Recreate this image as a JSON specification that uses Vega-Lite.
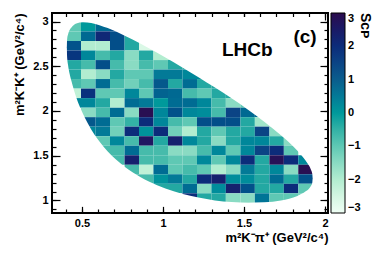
{
"$schema":"https://vega.github.io/schema/vega-lite/v6.json",
"width":276,"height":200,
"autosize":{"type":"none"},
"padding":{"left":52,"top":13,"right":46,"bottom":40},
"background":"white",
"config":{
 "view":{"stroke":"black","strokeWidth":2},
 "axis":{"grid":false,"domain":false,"tickColor":"black","tickWidth":1.2,"labelFont":"Liberation Sans","labelFontWeight":"bold","labelFontSize":11,"labelColor":"black","labelOverlap":false,"labelFlush":false,"titleFont":"Liberation Sans","titleFontWeight":"bold","titleFontSize":13,"titleColor":"black","zindex":1},
 "legend":{"labelFont":"Liberation Sans","labelFontWeight":"bold","labelFontSize":11,"labelColor":"black","labelOverlap":false,"titleFont":"Liberation Sans","titleFontWeight":"bold","titleFontSize":14,"titleColor":"black","gradientStrokeColor":"black","gradientStrokeWidth":1}
},
"datasets":{
"cells":[
{"xlo":0.405,"xhi":0.494,"ylo":2.889,"yhi":2.995,"S":-1.0},{"xlo":0.494,"xhi":0.584,"ylo":2.889,"yhi":2.995,"S":0.0},{"xlo":0.584,"xhi":0.673,"ylo":2.889,"yhi":2.995,"S":0.8},{"xlo":0.673,"xhi":0.763,"ylo":2.889,"yhi":2.995,"S":1.3},
{"xlo":0.405,"xhi":0.494,"ylo":2.782,"yhi":2.889,"S":-1.0},{"xlo":0.494,"xhi":0.584,"ylo":2.782,"yhi":2.889,"S":0.8},{"xlo":0.584,"xhi":0.673,"ylo":2.782,"yhi":2.889,"S":2.1},{"xlo":0.673,"xhi":0.763,"ylo":2.782,"yhi":2.889,"S":1.3},{"xlo":0.763,"xhi":0.852,"ylo":2.782,"yhi":2.889,"S":-0.3},
{"xlo":0.405,"xhi":0.494,"ylo":2.676,"yhi":2.782,"S":1.2},{"xlo":0.494,"xhi":0.584,"ylo":2.676,"yhi":2.782,"S":-2.0},{"xlo":0.584,"xhi":0.673,"ylo":2.676,"yhi":2.782,"S":-2.0},{"xlo":0.673,"xhi":0.763,"ylo":2.676,"yhi":2.782,"S":1.3},{"xlo":0.763,"xhi":0.852,"ylo":2.676,"yhi":2.782,"S":-0.3},{"xlo":0.852,"xhi":0.941,"ylo":2.676,"yhi":2.782,"S":-2.6},
{"xlo":0.405,"xhi":0.494,"ylo":2.569,"yhi":2.676,"S":1.8},{"xlo":0.494,"xhi":0.584,"ylo":2.569,"yhi":2.676,"S":0.3},{"xlo":0.584,"xhi":0.673,"ylo":2.569,"yhi":2.676,"S":-0.7},{"xlo":0.673,"xhi":0.763,"ylo":2.569,"yhi":2.676,"S":-0.3},{"xlo":0.763,"xhi":0.852,"ylo":2.569,"yhi":2.676,"S":-1.5},{"xlo":0.852,"xhi":0.941,"ylo":2.569,"yhi":2.676,"S":-0.3},{"xlo":0.941,"xhi":1.031,"ylo":2.569,"yhi":2.676,"S":-2.0},{"xlo":1.031,"xhi":1.120,"ylo":2.569,"yhi":2.676,"S":-2.0},
{"xlo":0.405,"xhi":0.494,"ylo":2.463,"yhi":2.569,"S":-0.3},{"xlo":0.494,"xhi":0.584,"ylo":2.463,"yhi":2.569,"S":-0.7},{"xlo":0.584,"xhi":0.673,"ylo":2.463,"yhi":2.569,"S":1.3},{"xlo":0.673,"xhi":0.763,"ylo":2.463,"yhi":2.569,"S":-0.7},{"xlo":0.763,"xhi":0.852,"ylo":2.463,"yhi":2.569,"S":-1.5},{"xlo":0.852,"xhi":0.941,"ylo":2.463,"yhi":2.569,"S":-0.7},{"xlo":0.941,"xhi":1.031,"ylo":2.463,"yhi":2.569,"S":-1.0},{"xlo":1.031,"xhi":1.120,"ylo":2.463,"yhi":2.569,"S":-0.3},{"xlo":1.120,"xhi":1.210,"ylo":2.463,"yhi":2.569,"S":-0.3},
{"xlo":0.405,"xhi":0.494,"ylo":2.357,"yhi":2.463,"S":-0.3},{"xlo":0.494,"xhi":0.584,"ylo":2.357,"yhi":2.463,"S":-2.0},{"xlo":0.584,"xhi":0.673,"ylo":2.357,"yhi":2.463,"S":-1.5},{"xlo":0.673,"xhi":0.763,"ylo":2.357,"yhi":2.463,"S":-0.3},{"xlo":0.763,"xhi":0.852,"ylo":2.357,"yhi":2.463,"S":-1.0},{"xlo":0.852,"xhi":0.941,"ylo":2.357,"yhi":2.463,"S":-1.0},{"xlo":0.941,"xhi":1.031,"ylo":2.357,"yhi":2.463,"S":0.5},{"xlo":1.031,"xhi":1.120,"ylo":2.357,"yhi":2.463,"S":0.5},{"xlo":1.120,"xhi":1.210,"ylo":2.357,"yhi":2.463,"S":0.3},{"xlo":1.210,"xhi":1.299,"ylo":2.357,"yhi":2.463,"S":0.3},
{"xlo":0.405,"xhi":0.494,"ylo":2.250,"yhi":2.357,"S":-0.7},{"xlo":0.494,"xhi":0.584,"ylo":2.250,"yhi":2.357,"S":-1.0},{"xlo":0.584,"xhi":0.673,"ylo":2.250,"yhi":2.357,"S":0.75},{"xlo":0.673,"xhi":0.763,"ylo":2.250,"yhi":2.357,"S":-0.7},{"xlo":0.763,"xhi":0.852,"ylo":2.250,"yhi":2.357,"S":-1.2},{"xlo":0.852,"xhi":0.941,"ylo":2.250,"yhi":2.357,"S":-0.7},{"xlo":0.941,"xhi":1.031,"ylo":2.250,"yhi":2.357,"S":1.1},{"xlo":1.031,"xhi":1.120,"ylo":2.250,"yhi":2.357,"S":-0.3},{"xlo":1.120,"xhi":1.210,"ylo":2.250,"yhi":2.357,"S":0.75},{"xlo":1.210,"xhi":1.299,"ylo":2.250,"yhi":2.357,"S":-0.3},{"xlo":1.299,"xhi":1.388,"ylo":2.250,"yhi":2.357,"S":-0.3},
{"xlo":0.405,"xhi":0.494,"ylo":2.144,"yhi":2.250,"S":-2.2},{"xlo":0.494,"xhi":0.584,"ylo":2.144,"yhi":2.250,"S":1.9},{"xlo":0.584,"xhi":0.673,"ylo":2.144,"yhi":2.250,"S":-1.0},{"xlo":0.673,"xhi":0.763,"ylo":2.144,"yhi":2.250,"S":-1.0},{"xlo":0.763,"xhi":0.852,"ylo":2.144,"yhi":2.250,"S":0.3},{"xlo":0.852,"xhi":0.941,"ylo":2.144,"yhi":2.250,"S":-1.0},{"xlo":0.941,"xhi":1.031,"ylo":2.144,"yhi":2.250,"S":0.9},{"xlo":1.031,"xhi":1.120,"ylo":2.144,"yhi":2.250,"S":0.8},{"xlo":1.120,"xhi":1.210,"ylo":2.144,"yhi":2.250,"S":-0.7},{"xlo":1.210,"xhi":1.299,"ylo":2.144,"yhi":2.250,"S":-1.0},{"xlo":1.299,"xhi":1.388,"ylo":2.144,"yhi":2.250,"S":-0.3},{"xlo":1.388,"xhi":1.478,"ylo":2.144,"yhi":2.250,"S":-0.3},
{"xlo":0.405,"xhi":0.494,"ylo":2.037,"yhi":2.144,"S":0.3},{"xlo":0.494,"xhi":0.584,"ylo":2.037,"yhi":2.144,"S":0.3},{"xlo":0.584,"xhi":0.673,"ylo":2.037,"yhi":2.144,"S":-0.3},{"xlo":0.673,"xhi":0.763,"ylo":2.037,"yhi":2.144,"S":-2.0},{"xlo":0.763,"xhi":0.852,"ylo":2.037,"yhi":2.144,"S":0.75},{"xlo":0.852,"xhi":0.941,"ylo":2.037,"yhi":2.144,"S":0.5},{"xlo":0.941,"xhi":1.031,"ylo":2.037,"yhi":2.144,"S":0.0},{"xlo":1.031,"xhi":1.120,"ylo":2.037,"yhi":2.144,"S":0.75},{"xlo":1.120,"xhi":1.210,"ylo":2.037,"yhi":2.144,"S":0.75},{"xlo":1.210,"xhi":1.299,"ylo":2.037,"yhi":2.144,"S":0.3},{"xlo":1.299,"xhi":1.388,"ylo":2.037,"yhi":2.144,"S":-0.7},{"xlo":1.388,"xhi":1.478,"ylo":2.037,"yhi":2.144,"S":-1.5},{"xlo":1.478,"xhi":1.567,"ylo":2.037,"yhi":2.144,"S":-1.0},
{"xlo":0.494,"xhi":0.584,"ylo":1.931,"yhi":2.037,"S":-1.5},{"xlo":0.584,"xhi":0.673,"ylo":1.931,"yhi":2.037,"S":-0.7},{"xlo":0.673,"xhi":0.763,"ylo":1.931,"yhi":2.037,"S":0.75},{"xlo":0.763,"xhi":0.852,"ylo":1.931,"yhi":2.037,"S":-1.5},{"xlo":0.852,"xhi":0.941,"ylo":1.931,"yhi":2.037,"S":2.9},{"xlo":0.941,"xhi":1.031,"ylo":1.931,"yhi":2.037,"S":0.3},{"xlo":1.031,"xhi":1.120,"ylo":1.931,"yhi":2.037,"S":1.25},{"xlo":1.120,"xhi":1.210,"ylo":1.931,"yhi":2.037,"S":0.3},{"xlo":1.210,"xhi":1.299,"ylo":1.931,"yhi":2.037,"S":0.2},{"xlo":1.299,"xhi":1.388,"ylo":1.931,"yhi":2.037,"S":-0.7},{"xlo":1.388,"xhi":1.478,"ylo":1.931,"yhi":2.037,"S":1.5},{"xlo":1.478,"xhi":1.567,"ylo":1.931,"yhi":2.037,"S":0.8},{"xlo":1.567,"xhi":1.657,"ylo":1.931,"yhi":2.037,"S":0.8},
{"xlo":0.494,"xhi":0.584,"ylo":1.825,"yhi":1.931,"S":1.1},{"xlo":0.584,"xhi":0.673,"ylo":1.825,"yhi":1.931,"S":0.75},{"xlo":0.673,"xhi":0.763,"ylo":1.825,"yhi":1.931,"S":-1.0},{"xlo":0.763,"xhi":0.852,"ylo":1.825,"yhi":1.931,"S":-0.5},{"xlo":0.852,"xhi":0.941,"ylo":1.825,"yhi":1.931,"S":2.0},{"xlo":0.941,"xhi":1.031,"ylo":1.825,"yhi":1.931,"S":0.3},{"xlo":1.031,"xhi":1.120,"ylo":1.825,"yhi":1.931,"S":-0.7},{"xlo":1.120,"xhi":1.210,"ylo":1.825,"yhi":1.931,"S":-1.0},{"xlo":1.210,"xhi":1.299,"ylo":1.825,"yhi":1.931,"S":1.3},{"xlo":1.299,"xhi":1.388,"ylo":1.825,"yhi":1.931,"S":1.3},{"xlo":1.388,"xhi":1.478,"ylo":1.825,"yhi":1.931,"S":1.3},{"xlo":1.478,"xhi":1.567,"ylo":1.825,"yhi":1.931,"S":-0.3},{"xlo":1.567,"xhi":1.657,"ylo":1.825,"yhi":1.931,"S":-1.8},{"xlo":1.657,"xhi":1.746,"ylo":1.825,"yhi":1.931,"S":-1.8},
{"xlo":0.494,"xhi":0.584,"ylo":1.718,"yhi":1.825,"S":0.3},{"xlo":0.584,"xhi":0.673,"ylo":1.718,"yhi":1.825,"S":0.5},{"xlo":0.673,"xhi":0.763,"ylo":1.718,"yhi":1.825,"S":-1.2},{"xlo":0.763,"xhi":0.852,"ylo":1.718,"yhi":1.825,"S":2.0},{"xlo":0.852,"xhi":0.941,"ylo":1.718,"yhi":1.825,"S":0.1},{"xlo":0.941,"xhi":1.031,"ylo":1.718,"yhi":1.825,"S":2.0},{"xlo":1.031,"xhi":1.120,"ylo":1.718,"yhi":1.825,"S":-1.2},{"xlo":1.120,"xhi":1.210,"ylo":1.718,"yhi":1.825,"S":-2.0},{"xlo":1.210,"xhi":1.299,"ylo":1.718,"yhi":1.825,"S":-0.3},{"xlo":1.299,"xhi":1.388,"ylo":1.718,"yhi":1.825,"S":-1.0},{"xlo":1.388,"xhi":1.478,"ylo":1.718,"yhi":1.825,"S":-0.3},{"xlo":1.478,"xhi":1.567,"ylo":1.718,"yhi":1.825,"S":-0.3},{"xlo":1.567,"xhi":1.657,"ylo":1.718,"yhi":1.825,"S":1.5},{"xlo":1.657,"xhi":1.746,"ylo":1.718,"yhi":1.825,"S":-1.5},
{"xlo":0.584,"xhi":0.673,"ylo":1.612,"yhi":1.718,"S":-1.0},{"xlo":0.673,"xhi":0.763,"ylo":1.612,"yhi":1.718,"S":0.3},{"xlo":0.763,"xhi":0.852,"ylo":1.612,"yhi":1.718,"S":-0.7},{"xlo":0.852,"xhi":0.941,"ylo":1.612,"yhi":1.718,"S":2.6},{"xlo":0.941,"xhi":1.031,"ylo":1.612,"yhi":1.718,"S":-0.3},{"xlo":1.031,"xhi":1.120,"ylo":1.612,"yhi":1.718,"S":2.3},{"xlo":1.120,"xhi":1.210,"ylo":1.612,"yhi":1.718,"S":0.3},{"xlo":1.210,"xhi":1.299,"ylo":1.612,"yhi":1.718,"S":-0.3},{"xlo":1.299,"xhi":1.388,"ylo":1.612,"yhi":1.718,"S":-1.5},{"xlo":1.388,"xhi":1.478,"ylo":1.612,"yhi":1.718,"S":-0.3},{"xlo":1.478,"xhi":1.567,"ylo":1.612,"yhi":1.718,"S":0.3},{"xlo":1.567,"xhi":1.657,"ylo":1.612,"yhi":1.718,"S":0.3},{"xlo":1.657,"xhi":1.746,"ylo":1.612,"yhi":1.718,"S":-0.3},{"xlo":1.746,"xhi":1.835,"ylo":1.612,"yhi":1.718,"S":-1.5},
{"xlo":0.584,"xhi":0.673,"ylo":1.505,"yhi":1.612,"S":-0.7},{"xlo":0.673,"xhi":0.763,"ylo":1.505,"yhi":1.612,"S":-0.7},{"xlo":0.763,"xhi":0.852,"ylo":1.505,"yhi":1.612,"S":0.75},{"xlo":0.852,"xhi":0.941,"ylo":1.505,"yhi":1.612,"S":-0.7},{"xlo":0.941,"xhi":1.031,"ylo":1.505,"yhi":1.612,"S":-0.7},{"xlo":1.031,"xhi":1.120,"ylo":1.505,"yhi":1.612,"S":-1.5},{"xlo":1.120,"xhi":1.210,"ylo":1.505,"yhi":1.612,"S":-1.5},{"xlo":1.210,"xhi":1.299,"ylo":1.505,"yhi":1.612,"S":-0.7},{"xlo":1.299,"xhi":1.388,"ylo":1.505,"yhi":1.612,"S":0.3},{"xlo":1.388,"xhi":1.478,"ylo":1.505,"yhi":1.612,"S":-1.0},{"xlo":1.478,"xhi":1.567,"ylo":1.505,"yhi":1.612,"S":0.3},{"xlo":1.567,"xhi":1.657,"ylo":1.505,"yhi":1.612,"S":1.5},{"xlo":1.657,"xhi":1.746,"ylo":1.505,"yhi":1.612,"S":2.0},{"xlo":1.746,"xhi":1.835,"ylo":1.505,"yhi":1.612,"S":-1.0},
{"xlo":0.673,"xhi":0.763,"ylo":1.399,"yhi":1.505,"S":-0.7},{"xlo":0.763,"xhi":0.852,"ylo":1.399,"yhi":1.505,"S":2.3},{"xlo":0.852,"xhi":0.941,"ylo":1.399,"yhi":1.505,"S":-0.7},{"xlo":0.941,"xhi":1.031,"ylo":1.399,"yhi":1.505,"S":-0.7},{"xlo":1.031,"xhi":1.120,"ylo":1.399,"yhi":1.505,"S":-1.0},{"xlo":1.120,"xhi":1.210,"ylo":1.399,"yhi":1.505,"S":-1.0},{"xlo":1.210,"xhi":1.299,"ylo":1.399,"yhi":1.505,"S":0.3},{"xlo":1.299,"xhi":1.388,"ylo":1.399,"yhi":1.505,"S":-1.0},{"xlo":1.388,"xhi":1.478,"ylo":1.399,"yhi":1.505,"S":0.3},{"xlo":1.478,"xhi":1.567,"ylo":1.399,"yhi":1.505,"S":2.0},{"xlo":1.567,"xhi":1.657,"ylo":1.399,"yhi":1.505,"S":-0.3},{"xlo":1.657,"xhi":1.746,"ylo":1.399,"yhi":1.505,"S":2.8},{"xlo":1.746,"xhi":1.835,"ylo":1.399,"yhi":1.505,"S":2.0},{"xlo":1.835,"xhi":1.925,"ylo":1.399,"yhi":1.505,"S":0.3},
{"xlo":0.763,"xhi":0.852,"ylo":1.292,"yhi":1.399,"S":-0.7},{"xlo":0.852,"xhi":0.941,"ylo":1.292,"yhi":1.399,"S":-2.2},{"xlo":0.941,"xhi":1.031,"ylo":1.292,"yhi":1.399,"S":0.75},{"xlo":1.031,"xhi":1.120,"ylo":1.292,"yhi":1.399,"S":-1.0},{"xlo":1.120,"xhi":1.210,"ylo":1.292,"yhi":1.399,"S":-0.7},{"xlo":1.210,"xhi":1.299,"ylo":1.292,"yhi":1.399,"S":-1.0},{"xlo":1.299,"xhi":1.388,"ylo":1.292,"yhi":1.399,"S":-2.0},{"xlo":1.388,"xhi":1.478,"ylo":1.292,"yhi":1.399,"S":-1.5},{"xlo":1.478,"xhi":1.567,"ylo":1.292,"yhi":1.399,"S":0.5},{"xlo":1.567,"xhi":1.657,"ylo":1.292,"yhi":1.399,"S":-0.3},{"xlo":1.657,"xhi":1.746,"ylo":1.292,"yhi":1.399,"S":0.3},{"xlo":1.746,"xhi":1.835,"ylo":1.292,"yhi":1.399,"S":-1.5},{"xlo":1.835,"xhi":1.925,"ylo":1.292,"yhi":1.399,"S":2.9},
{"xlo":0.763,"xhi":0.852,"ylo":1.186,"yhi":1.292,"S":-0.7},{"xlo":0.852,"xhi":0.941,"ylo":1.186,"yhi":1.292,"S":-0.7},{"xlo":0.941,"xhi":1.031,"ylo":1.186,"yhi":1.292,"S":0.1},{"xlo":1.031,"xhi":1.120,"ylo":1.186,"yhi":1.292,"S":0.5},{"xlo":1.120,"xhi":1.210,"ylo":1.186,"yhi":1.292,"S":-0.3},{"xlo":1.210,"xhi":1.299,"ylo":1.186,"yhi":1.292,"S":2.0},{"xlo":1.299,"xhi":1.388,"ylo":1.186,"yhi":1.292,"S":2.3},{"xlo":1.388,"xhi":1.478,"ylo":1.186,"yhi":1.292,"S":0.2},{"xlo":1.478,"xhi":1.567,"ylo":1.186,"yhi":1.292,"S":0.2},{"xlo":1.567,"xhi":1.657,"ylo":1.186,"yhi":1.292,"S":-0.3},{"xlo":1.657,"xhi":1.746,"ylo":1.186,"yhi":1.292,"S":0.75},{"xlo":1.746,"xhi":1.835,"ylo":1.186,"yhi":1.292,"S":-0.3},{"xlo":1.835,"xhi":1.925,"ylo":1.186,"yhi":1.292,"S":1.25},
{"xlo":0.941,"xhi":1.031,"ylo":1.080,"yhi":1.186,"S":-0.3},{"xlo":1.031,"xhi":1.120,"ylo":1.080,"yhi":1.186,"S":-0.3},{"xlo":1.120,"xhi":1.210,"ylo":1.080,"yhi":1.186,"S":0.75},{"xlo":1.210,"xhi":1.299,"ylo":1.080,"yhi":1.186,"S":-1.5},{"xlo":1.299,"xhi":1.388,"ylo":1.080,"yhi":1.186,"S":0.2},{"xlo":1.388,"xhi":1.478,"ylo":1.080,"yhi":1.186,"S":2.3},{"xlo":1.478,"xhi":1.567,"ylo":1.080,"yhi":1.186,"S":1.25},{"xlo":1.567,"xhi":1.657,"ylo":1.080,"yhi":1.186,"S":-0.3},{"xlo":1.657,"xhi":1.746,"ylo":1.080,"yhi":1.186,"S":-0.3},{"xlo":1.746,"xhi":1.835,"ylo":1.080,"yhi":1.186,"S":2.0},{"xlo":1.835,"xhi":1.925,"ylo":1.080,"yhi":1.186,"S":-1.0},
{"xlo":1.120,"xhi":1.210,"ylo":0.973,"yhi":1.080,"S":2.0},{"xlo":1.210,"xhi":1.299,"ylo":0.973,"yhi":1.080,"S":-0.3},{"xlo":1.299,"xhi":1.388,"ylo":0.973,"yhi":1.080,"S":-0.3},{"xlo":1.388,"xhi":1.478,"ylo":0.973,"yhi":1.080,"S":-1.5},{"xlo":1.478,"xhi":1.567,"ylo":0.973,"yhi":1.080,"S":-1.5},{"xlo":1.567,"xhi":1.657,"ylo":0.973,"yhi":1.080,"S":0.6},{"xlo":1.657,"xhi":1.746,"ylo":0.973,"yhi":1.080,"S":-1.0},{"xlo":1.746,"xhi":1.835,"ylo":0.973,"yhi":1.080,"S":-1.0},{"xlo":1.835,"xhi":1.925,"ylo":0.973,"yhi":1.080,"S":-1.0}
],
"upper":[{"x":0.39,"y":2.71},{"x":0.405,"y":2.71},{"x":0.409,"y":2.814},{"x":0.414,"y":2.856},{"x":0.424,"y":2.905},{"x":0.435,"y":2.934},{"x":0.465,"y":2.978},{"x":0.506,"y":2.993},{"x":0.557,"y":2.984},{"x":0.608,"y":2.959},{"x":0.659,"y":2.926},{"x":0.710,"y":2.887},{"x":0.761,"y":2.844},{"x":0.812,"y":2.799},{"x":0.913,"y":2.701},{"x":1.015,"y":2.598},{"x":1.117,"y":2.490},{"x":1.219,"y":2.378},{"x":1.321,"y":2.262},{"x":1.423,"y":2.141},{"x":1.525,"y":2.014},{"x":1.627,"y":1.878},{"x":1.728,"y":1.730},{"x":1.830,"y":1.556},{"x":1.881,"y":1.445},{"x":1.902,"y":1.387},{"x":1.912,"y":1.350},{"x":1.922,"y":1.296},{"x":1.925,"y":1.247},{"x":1.94,"y":1.247}],
"lower":[{"x":0.39,"y":2.71},{"x":0.405,"y":2.71},{"x":0.409,"y":2.584},{"x":0.414,"y":2.514},{"x":0.424,"y":2.414},{"x":0.435,"y":2.334},{"x":0.465,"y":2.150},{"x":0.506,"y":1.968},{"x":0.557,"y":1.794},{"x":0.608,"y":1.659},{"x":0.659,"y":1.548},{"x":0.710,"y":1.457},{"x":0.761,"y":1.381},{"x":0.812,"y":1.315},{"x":0.913,"y":1.211},{"x":1.015,"y":1.133},{"x":1.117,"y":1.075},{"x":1.219,"y":1.032},{"x":1.321,"y":1.001},{"x":1.423,"y":0.983},{"x":1.525,"y":0.975},{"x":1.627,"y":0.980},{"x":1.728,"y":1.001},{"x":1.830,"y":1.051},{"x":1.881,"y":1.102},{"x":1.902,"y":1.135},{"x":1.912,"y":1.160},{"x":1.922,"y":1.202},{"x":1.925,"y":1.247},{"x":1.94,"y":1.247}],
"labels":[{"x":1.52,"y":2.676,"t":"LHCb","size":19},{"x":1.877,"y":2.832,"t":"(c)","size":19}]
},
"layer":[
{"data":{"name":"cells"},
 "mark":{"type":"rect"},
 "encoding":{
  "x":{"field":"xlo","type":"quantitative","scale":{"domain":[0.315,2.0185],"nice":false,"zero":false},
       "axis":{"orient":"bottom","values":[0.5,1,1.5,2],"format":"~g","tickSize":-7,"labelPadding":11,"title":"m²K⁻π⁺ (GeV²/c⁴)","titleAnchor":"end","titlePadding":3}},
  "x2":{"field":"xhi"},
  "y":{"field":"ylo","type":"quantitative","scale":{"domain":[0.86,3.095],"nice":false,"zero":false},
       "axis":{"orient":"left","values":[1,1.5,2,2.5,3],"format":"~g","tickSize":-8,"labelPadding":12,"title":"m²K⁻K⁺ (GeV²/c⁴)","titleAnchor":"end","titlePadding":6}},
  "y2":{"field":"yhi"},
  "color":{"field":"S","type":"quantitative",
   "scale":{"domain":[-3,-2.5,-2,-1.5,-1,-0.5,0,0.5,1,1.5,2,2.5,3],"range":["#f0fff5","#d4f6e2","#b2edd0","#8adbc3","#5fc8b4","#33b2a6","#00999b","#037a97","#0a5d8d","#0b4485","#0c2c7a","#1a1a66","#2b0c4d"]},
   "legend":{"title":"Sᴄᴘ","values":[-3,-2,-1,0,1,2,3],"gradientLength":200,"gradientThickness":14,"offset":2,"labelOffset":3,"titleOrient":"right","titleAngle":270,"titleAlign":"left","titleAnchor":"end","titleBaseline":"top","titlePadding":11}}
 }},
{"data":{"name":"upper"},
 "mark":{"type":"area","color":"white","interpolate":"monotone"},
 "encoding":{
  "x":{"field":"x","type":"quantitative","scale":{"domain":[0.315,2.0185],"nice":false,"zero":false},
       "axis":{"orient":"bottom","values":[0.4,0.5,0.6,0.7,0.8,0.9,1.0,1.1,1.2,1.3,1.4,1.5,1.6,1.7,1.8,1.9,2.0],"tickSize":-4,"labels":false,"title":null}},
  "y":{"field":"y","type":"quantitative","scale":{"domain":[0.86,3.095],"nice":false,"zero":false},
       "axis":{"orient":"left","values":[0.9,1.0,1.1,1.2,1.3,1.4,1.5,1.6,1.7,1.8,1.9,2.0,2.1,2.2,2.3,2.4,2.5,2.6,2.7,2.8,2.9,3.0],"tickSize":-4,"labels":false,"title":null}},
  "y2":{"datum":3.05}
 }},
{"data":{"name":"lower"},
 "mark":{"type":"area","color":"white","interpolate":"monotone"},
 "encoding":{
  "x":{"field":"x","type":"quantitative","scale":{"domain":[0.315,2.0185],"nice":false,"zero":false},
       "axis":{"orient":"top","values":[0.5,1,1.5,2],"tickSize":-7,"labels":false,"title":null}},
  "y":{"field":"y","type":"quantitative","scale":{"domain":[0.86,3.095],"nice":false,"zero":false},
       "axis":{"orient":"right","values":[1,1.5,2,2.5,3],"tickSize":-8,"labels":false,"title":null}},
  "y2":{"datum":0.93}
 }},
{"data":{"name":"labels"},
 "mark":{"type":"text","font":"Liberation Sans","fontWeight":"bold","align":"center","baseline":"middle","color":"black"},
 "encoding":{
  "x":{"field":"x","type":"quantitative","scale":{"domain":[0.315,2.0185],"nice":false,"zero":false},
       "axis":{"orient":"top","values":[0.4,0.5,0.6,0.7,0.8,0.9,1.0,1.1,1.2,1.3,1.4,1.5,1.6,1.7,1.8,1.9,2.0],"tickSize":-4,"labels":false,"title":null}},
  "y":{"field":"y","type":"quantitative","scale":{"domain":[0.86,3.095],"nice":false,"zero":false},
       "axis":{"orient":"right","values":[0.9,1.0,1.1,1.2,1.3,1.4,1.5,1.6,1.7,1.8,1.9,2.0,2.1,2.2,2.3,2.4,2.5,2.6,2.7,2.8,2.9,3.0],"tickSize":-4,"labels":false,"title":null}},
  "text":{"field":"t"},
  "size":{"field":"size","type":"quantitative","scale":null}
 }}
],
"resolve":{"axis":{"x":"independent","y":"independent"}}
}
